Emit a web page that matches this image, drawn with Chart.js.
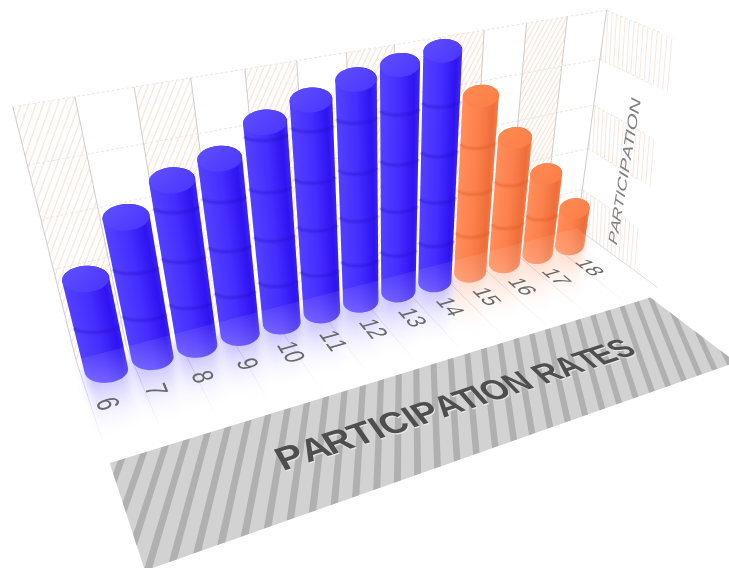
<!DOCTYPE html>
<html>
<head>
<meta charset="utf-8">
<title>Participation rates</title>
<script src="https://cdn.jsdelivr.net/npm/chart.js@4"></script>
<style>
  html, body { margin: 0; padding: 0; background: #fff; }
  canvas { display: block; }
</style>
</head>
<body>
<canvas id="chart" width="729" height="568"></canvas>
<script>
const categories = ['6', '7', '8', '9', '10', '11', '12', '13', '14', '15', '16', '17', '18'];
const participation = [40, 60, 70, 74.5, 84.5, 89.5, 94, 96.5, 99, 79, 58.5, 39, 18.6];
const orangeFrom = 9; // first index drawn in orange
const valueTicks = [0, 20, 40, 60, 80, 100];
const xTitle = 'PARTICIPATION RATES';
const yTitle = 'PARTICIPATION';

const wallColumns = 12;
const floorDepth = 0.125;
const sideDepth = 0.092;
const barDepth = 0.025;

const blue = {
  side: ['rgb(84,64,255)', 'rgb(68,45,255)', 'rgb(46,20,240)', 'rgb(60,35,246)'],
  top: ['rgb(92,76,252)', 'rgb(76,56,255)'], rim: '36,14,190', haze: '70,50,255'
};
const orange = {
  side: ['rgb(255,142,92)', 'rgb(252,128,75)', 'rgb(238,110,58)', 'rgb(245,120,70)'],
  top: ['rgb(255,138,84)', 'rgb(252,126,70)'], rim: '215,85,30', haze: '255,140,90'
};

// perspective camera built from three vanishing points; X = wall column, D = depth, Z = grid row
function project(X, D, Z) {
  const t = 0.0196667 * X;
  const s = -0.0336 * Z;
  const w = 1 + t - D + s;
  return {
    x: (76 + 2700 * t + 140 * D + 389 * s) / w,
    y: (360 - 330 * t + 300 * D + 1614 * s) / w
  };
}

function tracePoly(ctx, pts) {
  ctx.beginPath();
  pts.forEach((p, i) => (i ? ctx.lineTo(p.x, p.y) : ctx.moveTo(p.x, p.y)));
  ctx.closePath();
}

function line3d(ctx, a, b) {
  const p = project(a[0], a[1], a[2]);
  const q = project(b[0], b[1], b[2]);
  ctx.beginPath();
  ctx.moveTo(p.x, p.y);
  ctx.lineTo(q.x, q.y);
  ctx.stroke();
}

function hull(points) {
  const pts = points.slice().sort((a, b) => a.x - b.x || a.y - b.y);
  const cross = (o, a, b) => (a.x - o.x) * (b.y - o.y) - (a.y - o.y) * (b.x - o.x);
  const lower = [], upper = [];
  for (const p of pts) {
    while (lower.length > 1 && cross(lower[lower.length - 2], lower[lower.length - 1], p) <= 0) lower.pop();
    lower.push(p);
  }
  for (const p of pts.reverse()) {
    while (upper.length > 1 && cross(upper[upper.length - 2], upper[upper.length - 1], p) <= 0) upper.pop();
    upper.push(p);
  }
  return lower.slice(0, -1).concat(upper.slice(0, -1));
}

function halfWidth(X, R, Z) {
  return (project(X + R, barDepth, Z).x - project(X - R, barDepth, Z).x) / 2;
}

// a bar's cross-section: an ellipse around its projected centre, almost level on screen
function ring(X, R, Z, sag, from, to) {
  const c = project(X, barDepth, Z);
  const hw = halfWidth(X, R, Z);
  const minor = sag || 5 + hw * 0.35;
  const pts = [];
  for (let i = 0; i <= 48; i++) {
    const a = from + (to - from) * i / 48;
    pts.push({ x: c.x + hw * Math.cos(a), y: c.y + minor * Math.sin(a) - 0.05 * hw * Math.cos(a) });
  }
  return pts;
}

const FULL = Math.PI * 2;

// each glyph gets the local affine of the projection at its own position
function planeText(ctx, text, start, runPerPx, upPerPx, color) {
  const at = (u, v) => [
    start[0] + runPerPx[0] * u + upPerPx[0] * v,
    start[1] + runPerPx[1] * u + upPerPx[1] * v,
    start[2] + runPerPx[2] * u + upPerPx[2] * v
  ];
  ctx.fillStyle = color;
  ctx.textAlign = 'center';
  ctx.textBaseline = 'alphabetic';
  for (let i = 0; i < text.length; i++) {
    const u = ctx.measureText(text.slice(0, i)).width + ctx.measureText(text[i]).width / 2;
    const o = at(u, 0), r = at(u + 1, 0), v = at(u, 1);
    const po = project(o[0], o[1], o[2]);
    const pr = project(r[0], r[1], r[2]);
    const pv = project(v[0], v[1], v[2]);
    ctx.setTransform(pr.x - po.x, pr.y - po.y, po.x - pv.x, po.y - pv.y, po.x, po.y);
    ctx.fillText(text[i], 0, 0);
  }
  ctx.setTransform(1, 0, 0, 1, 0, 0);
}

function drawWalls(ctx, rows) {
  // hatched columns on the back wall
  ctx.lineWidth = 1.3;
  for (let c = 0; c < wallColumns; c += 2) {
    ctx.save();
    tracePoly(ctx, [project(c, 0, 0), project(c + 1, 0, 0), project(c + 1, 0, rows), project(c, 0, rows)]);
    ctx.clip();
    ctx.strokeStyle = 'rgba(245,212,188,0.55)';
    for (let h = -4; h < 1.2; h += 0.125) {
      line3d(ctx, [c + h, 0, 0], [c + h + 0.6 * rows, 0, rows]);
    }
    ctx.restore();
  }
  // hatched rows on the side wall
  ctx.lineWidth = 1;
  for (let r = 0; r < rows; r += 2) {
    ctx.save();
    tracePoly(ctx, [project(wallColumns, 0, r), project(wallColumns, sideDepth, r),
      project(wallColumns, sideDepth, r + 1), project(wallColumns, 0, r + 1)]);
    ctx.clip();
    ctx.strokeStyle = 'rgba(242,212,196,0.55)';
    for (let d = -0.01; d < sideDepth; d += 0.006) {
      line3d(ctx, [wallColumns, d + 0.006, r], [wallColumns, d, r + 1]);
    }
    ctx.restore();
  }
  // horizontal grid lines
  ctx.strokeStyle = 'rgba(228,218,208,0.7)';
  ctx.setLineDash([3, 2]);
  for (let r = 1; r <= rows; r++) {
    line3d(ctx, [0, 0, r], [wallColumns, 0, r]);
    line3d(ctx, [wallColumns, 0, r], [wallColumns, sideDepth * 0.8, r]);
  }
  ctx.setLineDash([]);
  // column lines
  ctx.strokeStyle = 'rgb(208,204,200)';
  for (let c = 0; c <= wallColumns; c++) {
    line3d(ctx, [c, 0, 0], [c, 0, rows]);
  }
}

function drawFloorLines(ctx) {
  ctx.strokeStyle = 'rgba(205,205,212,0.9)';
  ctx.lineWidth = 1;
  for (let c = 0; c <= wallColumns; c++) {
    line3d(ctx, [c, 0, 0], [c, floorDepth, 0]);
  }
}

function floorPath(ctx) {
  tracePoly(ctx, [project(-0.3, 0, 0), project(wallColumns, 0, 0),
    project(wallColumns, floorDepth, 0), project(-0.3, floorDepth, 0)]);
}

function drawHaze(ctx, bars) {
  ctx.save();
  floorPath(ctx);
  ctx.clip();
  ctx.filter = 'blur(5px)';
  bars.forEach(b => {
    const from = project(b.X, barDepth, 0);
    const to = project(b.X, barDepth, -1.6);
    const g = ctx.createLinearGradient(from.x, from.y, to.x, to.y);
    g.addColorStop(0, 'rgba(' + b.style.haze + ',0.42)');
    g.addColorStop(1, 'rgba(' + b.style.haze + ',0)');
    ctx.fillStyle = g;
    tracePoly(ctx, hull(ring(b.X, b.R, 0, 0, 0, FULL).concat(ring(b.X, b.R, -1.6, 0, 0, FULL))));
    ctx.fill();
  });
  ctx.restore();
}

function drawCylinder(ctx, b, rowTicks) {
  const base = project(b.X, barDepth, 0);
  const head = project(b.X, barDepth, b.Z);

  // shade straight across the cylinder, square to its leaning axis
  const ax = head.x - base.x, ay = head.y - base.y;
  const len = Math.hypot(ax, ay);
  const sign = -ay / len > 0 ? 1 : -1;
  const nx = sign * -ay / len, ny = sign * ax / len;
  const half = halfWidth(b.X, b.R, b.Z / 2);
  const mx = (base.x + head.x) / 2, my = (base.y + head.y) / 2;
  const body = ctx.createLinearGradient(mx - nx * half, my - ny * half, mx + nx * half, my + ny * half);
  [0, 0.5, 0.88, 1].forEach((stop, i) => body.addColorStop(stop, b.style.side[i]));
  ctx.fillStyle = body;
  tracePoly(ctx, hull(ring(b.X, b.R, 0, 0, 0, FULL).concat(ring(b.X, b.R, b.Z, 0, 0, FULL))));
  ctx.fill();

  // one soft rim per grid row the bar passes
  rowTicks.forEach(z => {
    if (z <= 0 || z >= b.Z - 0.05) return;
    const arc = ring(b.X, b.R, z, 6, 0.12, Math.PI - 0.12);
    ctx.beginPath();
    arc.forEach((p, i) => (i ? ctx.lineTo(p.x, p.y) : ctx.moveTo(p.x, p.y)));
    ctx.strokeStyle = 'rgba(' + b.style.rim + ',0.13)';
    ctx.lineWidth = 5;
    ctx.stroke();
    ctx.strokeStyle = 'rgba(' + b.style.rim + ',0.22)';
    ctx.lineWidth = 2.2;
    ctx.stroke();
  });

  const lid = ctx.createLinearGradient(head.x - 10, head.y - 12, head.x + 10, head.y + 12);
  lid.addColorStop(0, b.style.top[0]);
  lid.addColorStop(1, b.style.top[1]);
  ctx.fillStyle = lid;
  tracePoly(ctx, ring(b.X, b.R, b.Z, 0, 0, FULL));
  ctx.fill();
}

function drawFloorVeil(ctx) {
  // the floor is a pale sheet, thickening towards the viewer
  const from = project(0, 0, 0);
  const g = ctx.createLinearGradient(from.x, from.y, from.x + 23, from.y + 87);
  g.addColorStop(0, 'rgba(255,255,255,0.08)');
  g.addColorStop(0.33, 'rgba(255,255,255,0.24)');
  g.addColorStop(0.7, 'rgba(255,255,255,0.68)');
  g.addColorStop(1, 'rgba(255,255,255,1)');
  ctx.save();
  floorPath(ctx);
  ctx.clip();
  ctx.fillStyle = g;
  ctx.fillRect(0, 0, 729, 568);
  ctx.restore();
}

function drawBand(ctx) {
  const near = 0.135, far = 0.242, end = 11.6;
  const quad = [project(0, near, 0), project(end, near, 0), project(end, far, 0), project(0, far, 0)];
  ctx.save();
  tracePoly(ctx, quad);
  ctx.clip();
  ctx.fillStyle = 'rgb(210,210,210)';
  ctx.fillRect(0, 0, 729, 568);
  ctx.fillStyle = 'rgb(176,176,176)';
  for (let x = -1; x < end + 3; x += 0.38) {
    const w = 0.13;
    tracePoly(ctx, [project(x, near, 0), project(x + w, near, 0), project(x + w - 1.3, far, 0), project(x - 1.3, far, 0)]);
    ctx.fill();
  }
  ctx.restore();
}

// bars keep their place in the layout; the plugin redraws them in perspective
const perspectivePlugin = {
  id: 'perspective',
  beforeDatasetsDraw(chart) {
    const ctx = chart.ctx;
    const area = chart.chartArea;
    const xs = chart.scales.x;
    const ys = chart.scales.y;
    const rows = ys.ticks.length - 1;
    const toZ = px => (area.bottom - px) / (area.bottom - area.top) * rows;
    const toX = px => (px - area.left) / (area.right - area.left) * wallColumns;
    // the bar row sits slightly inside the wall columns
    const rowX = px => toX(px) * 0.983 + 0.02;
    const meta = chart.getDatasetMeta(0);
    const bars = meta.data.map((el, i) => ({
      X: rowX(el.x),
      R: toX(area.left + el.width / 2),
      Z: toZ(el.y),
      style: i >= orangeFrom ? orange : blue
    }));
    const rowTicks = ys.ticks.map(t => toZ(ys.getPixelForValue(t.value)));

    ctx.save();
    drawWalls(ctx, rows);
    drawFloorLines(ctx);
    drawHaze(ctx, bars);
    // right-hand bars sit further back
    for (let i = bars.length - 1; i >= 0; i--) drawCylinder(ctx, bars[i], rowTicks);
    drawFloorVeil(ctx);
    drawBand(ctx);

    // category labels lying on the floor
    ctx.font = '100px "Liberation Sans"';
    xs.ticks.forEach((tick, i) => {
      const X = rowX(xs.getPixelForTick(i)) - 0.17;
      const w = ctx.measureText(tick.label).width;
      const run = [0, 0.000265, 0];
      const up = [0.0055, 0, 0];
      planeText(ctx, tick.label, [X - up[0] * 36, 0.068 - run[1] * w / 2, 0], run, up, 'rgb(105,105,105)');
    });

    // value axis title on the side wall
    const yRun = 3.35 / ctx.measureText(ys.options.title.text).width;
    planeText(ctx, ys.options.title.text, [wallColumns, 0.062, 0.25], [0, 0, yRun], [0, -0.013 / 72, 0], 'rgb(128,128,128)');

    // category axis title on the band
    ctx.font = 'bold 100px "Liberation Sans"';
    const xRun = 7.5 / ctx.measureText(xs.options.title.text).width;
    const up = [0, -0.024 / 72, 0];
    planeText(ctx, xs.options.title.text, [2.6, 0.1985, 0], [xRun, 0, 0], up, 'rgb(232,232,232)');
    planeText(ctx, xs.options.title.text, [2.6, 0.197, 0], [xRun, 0, 0], up, 'rgb(78,78,78)');
    ctx.restore();
    return false;
  }
};

new Chart(document.getElementById('chart'), {
  type: 'bar',
  data: {
    labels: categories,
    datasets: [{
      label: yTitle,
      data: participation,
      barPercentage: 1,
      categoryPercentage: 0.91
    }]
  },
  options: {
    responsive: false,
    animation: false,
    events: [],
    plugins: { legend: { display: false }, tooltip: { enabled: false } },
    scales: {
      x: { display: false, title: { text: xTitle } },
      y: {
        display: false,
        min: valueTicks[0],
        max: valueTicks[valueTicks.length - 1],
        ticks: { stepSize: valueTicks[1] - valueTicks[0] },
        title: { text: yTitle }
      }
    }
  },
  plugins: [perspectivePlugin]
});
</script>
</body>
</html>
